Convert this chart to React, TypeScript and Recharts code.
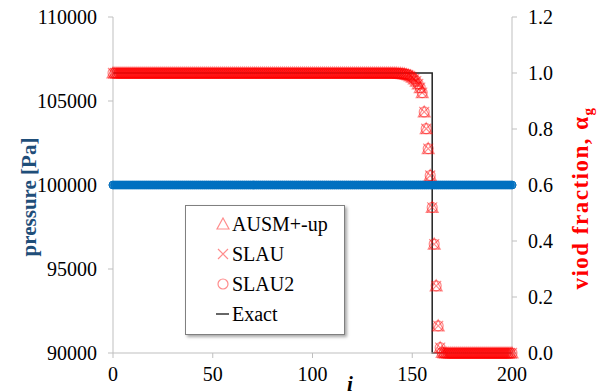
import React from 'react';
import { ComposedChart, Line, XAxis, YAxis } from 'recharts';

const FONT = '"Liberation Serif", "Times New Roman", serif';
const RED = '#ff0000';
const BLUE = '#0070c0';

// cell index 0..200
const cells = Array.from({ length: 201 }, (_, k) => k);

// pressure [Pa], flat for every scheme
const pressure = [
  1e5, 1e5, 1e5, 1e5, 1e5, 1e5, 1e5, 1e5, 1e5, 1e5, 1e5, 1e5, 1e5, 1e5, 1e5, 1e5, 1e5, 1e5, 1e5, 1e5,
  1e5, 1e5, 1e5, 1e5, 1e5, 1e5, 1e5, 1e5, 1e5, 1e5, 1e5, 1e5, 1e5, 1e5, 1e5, 1e5, 1e5, 1e5, 1e5, 1e5,
  1e5, 1e5, 1e5, 1e5, 1e5, 1e5, 1e5, 1e5, 1e5, 1e5, 1e5, 1e5, 1e5, 1e5, 1e5, 1e5, 1e5, 1e5, 1e5, 1e5,
  1e5, 1e5, 1e5, 1e5, 1e5, 1e5, 1e5, 1e5, 1e5, 1e5, 1e5, 1e5, 1e5, 1e5, 1e5, 1e5, 1e5, 1e5, 1e5, 1e5,
  1e5, 1e5, 1e5, 1e5, 1e5, 1e5, 1e5, 1e5, 1e5, 1e5, 1e5, 1e5, 1e5, 1e5, 1e5, 1e5, 1e5, 1e5, 1e5, 1e5,
  1e5, 1e5, 1e5, 1e5, 1e5, 1e5, 1e5, 1e5, 1e5, 1e5, 1e5, 1e5, 1e5, 1e5, 1e5, 1e5, 1e5, 1e5, 1e5, 1e5,
  1e5, 1e5, 1e5, 1e5, 1e5, 1e5, 1e5, 1e5, 1e5, 1e5, 1e5, 1e5, 1e5, 1e5, 1e5, 1e5, 1e5, 1e5, 1e5, 1e5,
  1e5, 1e5, 1e5, 1e5, 1e5, 1e5, 1e5, 1e5, 1e5, 1e5, 1e5, 1e5, 1e5, 1e5, 1e5, 1e5, 1e5, 1e5, 1e5, 1e5,
  1e5, 1e5, 1e5, 1e5, 1e5, 1e5, 1e5, 1e5, 1e5, 1e5, 1e5, 1e5, 1e5, 1e5, 1e5, 1e5, 1e5, 1e5, 1e5, 1e5,
  1e5, 1e5, 1e5, 1e5, 1e5, 1e5, 1e5, 1e5, 1e5, 1e5, 1e5, 1e5, 1e5, 1e5, 1e5, 1e5, 1e5, 1e5, 1e5, 1e5,
  1e5,
];

// void fraction, the three schemes lie on top of each other
const alphaAUSM = [
  1, 1, 1, 1, 1, 1, 1, 1, 1, 1, 1, 1, 1, 1, 1, 1, 1, 1, 1, 1,
  1, 1, 1, 1, 1, 1, 1, 1, 1, 1, 1, 1, 1, 1, 1, 1, 1, 1, 1, 1,
  1, 1, 1, 1, 1, 1, 1, 1, 1, 1, 1, 1, 1, 1, 1, 1, 1, 1, 1, 1,
  1, 1, 1, 1, 1, 1, 1, 1, 1, 1, 1, 1, 1, 1, 1, 1, 1, 1, 1, 1,
  1, 1, 1, 1, 1, 1, 1, 1, 1, 1, 1, 1, 1, 1, 1, 1, 1, 1, 1, 1,
  1, 1, 1, 1, 1, 1, 1, 1, 1, 1, 1, 1, 1, 1, 1, 1, 1, 1, 1, 1,
  1, 1, 1, 1, 1, 1, 1, 1, 1, 1, 1, 1, 1, 1, 1, 1, 1, 1, 1, 1,
  1, 1, 1, 0.999, 0.999, 0.998, 0.997, 0.995, 0.993, 0.99,
  0.985, 0.979, 0.971, 0.961, 0.948, 0.93, 0.861, 0.801, 0.73, 0.634,
  0.52, 0.389, 0.24, 0.097, 0.019, 0.002, 0, 0, 0, 0,
  0, 0, 0, 0, 0, 0, 0, 0, 0, 0, 0, 0, 0, 0, 0, 0, 0, 0, 0, 0,
  0, 0, 0, 0, 0, 0, 0, 0, 0, 0, 0,
];
const alphaSLAU = alphaAUSM;
const alphaSLAU2 = alphaAUSM;

// exact solution: step at i = 160
const exactCells = [0, 160, 200];
const exactAlpha = [1, 0, 0];

const xTicks = [0, 50, 100, 150, 200];
const pTicks = [90000, 95000, 100000, 105000, 110000];
const aTicks = [0, 0.2, 0.4, 0.6, 0.8, 1.0, 1.2];

const rows = cells.map((i, k) => ({
  i,
  p: pressure[k],
  ausm: alphaAUSM[k],
  slau: alphaSLAU[k],
  slau2: alphaSLAU2[k],
}));
const exactRows = exactCells.map((i, k) => ({ i, exact: exactAlpha[k] }));

const markerStyle = { stroke: RED, strokeOpacity: 0.45, strokeWidth: 1.2, fill: 'none' };

const TriangleDot = (props: any) => {
  const { cx, cy, index } = props;
  if (cx == null || cy == null) return <g key={index} />;
  return (
    <path key={index} d={`M${cx},${cy - 6}L${cx + 6},${cy + 5}L${cx - 6},${cy + 5}Z`} {...markerStyle} />
  );
};
const CrossDot = (props: any) => {
  const { cx, cy, index } = props;
  if (cx == null || cy == null) return <g key={index} />;
  return (
    <path key={index} d={`M${cx - 5},${cy - 5}L${cx + 5},${cy + 5}M${cx + 5},${cy - 5}L${cx - 5},${cy + 5}`} {...markerStyle} />
  );
};
const CircleDot = (props: any) => {
  const { cx, cy, index } = props;
  if (cx == null || cy == null) return <g key={index} />;
  return <circle key={index} cx={cx} cy={cy} r={5} {...markerStyle} />;
};
const BlueDot = (props: any) => {
  const { cx, cy, index } = props;
  if (cx == null || cy == null) return <g key={index} />;
  return <circle key={index} cx={cx} cy={cy} r={4} fill={BLUE} fillOpacity={0.8} stroke={BLUE} strokeWidth={1} />;
};

const PressureTitle = ({ viewBox }: any) => {
  const x = viewBox.x + 29;
  const y = viewBox.y + viewBox.height / 2 + 12;
  return (
    <text x={x} y={y} transform={`rotate(-90 ${x} ${y})`} textAnchor="middle" dominantBaseline="central"
      fontFamily={FONT} fontSize={21} fontWeight="bold" fill="#1f4e79">
      pressure [Pa]
    </text>
  );
};

const VoidTitle = ({ viewBox }: any) => {
  const x = viewBox.x + 68;
  const y = viewBox.y + viewBox.height / 2 + 13;
  return (
    <text x={x} y={y} transform={`rotate(-90 ${x} ${y})`} textAnchor="middle" dominantBaseline="central"
      fontFamily={FONT} fontSize={23} fontWeight="bold" fill={RED} letterSpacing={1.5}>
      viod fraction, α<tspan baselineShift="sub" fontSize={15}>g</tspan>
    </text>
  );
};

const CellTitle = ({ viewBox }: any) => (
  <text x={viewBox.x + 237} y={viewBox.y + 38} textAnchor="middle" fontFamily={FONT}
    fontSize={21} fontWeight="bold" fontStyle="italic" fill="#000">
    i
  </text>
);

const legendItems = [
  { name: 'AUSM+-up', kind: 'tri' },
  { name: 'SLAU', kind: 'cross' },
  { name: 'SLAU2', kind: 'circle' },
  { name: 'Exact', kind: 'line' },
];

const LegendMark = ({ kind }: { kind: string }) => (
  <svg width={14} height={14} style={{ marginRight: 2 }}>
    {kind === 'tri' && <path d="M7,1L13,12L1,12Z" {...markerStyle} />}
    {kind === 'cross' && <path d="M2,2L12,12M12,2L2,12" {...markerStyle} />}
    {kind === 'circle' && <circle cx={7} cy={7} r={5} {...markerStyle} />}
    {kind === 'line' && <path d="M0,7L13,7" stroke="#000" strokeWidth={1.2} />}
  </svg>
);

const LegendBox = () => (
  <div style={{
    position: 'absolute', left: 185, top: 205, width: 160, height: 130, boxSizing: 'border-box',
    background: '#fff', border: '1px solid #808080', boxShadow: '2px 2px 3px rgba(0,0,0,0.35)',
    paddingLeft: 30, paddingTop: 3, fontFamily: FONT, fontSize: 20, color: '#000',
  }}>
    {legendItems.map((it) => (
      <div key={it.name} style={{ height: 30, display: 'flex', alignItems: 'center' }}>
        <LegendMark kind={it.kind} />
        <span>{it.name}</span>
      </div>
    ))}
  </div>
);

const tickStyle = { fill: '#000', fontSize: 20, fontFamily: FONT };

export default function App() {
  return (
    <div style={{ position: 'absolute', left: 0, top: 0, width: 599, height: 392, background: '#fff' }}>
      <ComposedChart width={599} height={392} data={rows} margin={{ top: 17, right: 0, left: 0, bottom: 0 }}>
        <XAxis dataKey="i" type="number" domain={[0, 200]} ticks={xTicks} height={39}
          stroke="#bfbfbf" tick={tickStyle} tickSize={5} tickMargin={9} label={<CellTitle />} />
        <YAxis yAxisId="p" orientation="left" type="number" domain={[90000, 110000]} ticks={pTicks}
          width={113} stroke="#bfbfbf" tick={tickStyle} tickSize={5} tickMargin={11}
          label={<PressureTitle />} />
        <YAxis yAxisId="a" orientation="right" type="number" domain={[0, 1.2]} ticks={aTicks}
          width={87} stroke="#bfbfbf" tick={tickStyle} tickSize={5} tickMargin={11}
          tickFormatter={(v: number) => v.toFixed(1)} label={<VoidTitle />} />
        <Line yAxisId="p" dataKey="p" stroke="none" dot={BlueDot} activeDot={false} isAnimationActive={false} />
        <Line yAxisId="a" data={exactRows} dataKey="exact" type="stepAfter" stroke="#222" strokeWidth={1.5}
          dot={false} activeDot={false} isAnimationActive={false} />
        <Line yAxisId="a" dataKey="ausm" stroke="none" dot={TriangleDot} activeDot={false} isAnimationActive={false} />
        <Line yAxisId="a" dataKey="slau" stroke="none" dot={CrossDot} activeDot={false} isAnimationActive={false} />
        <Line yAxisId="a" dataKey="slau2" stroke="none" dot={CircleDot} activeDot={false} isAnimationActive={false} />
      </ComposedChart>
      <LegendBox />
    </div>
  );
}
